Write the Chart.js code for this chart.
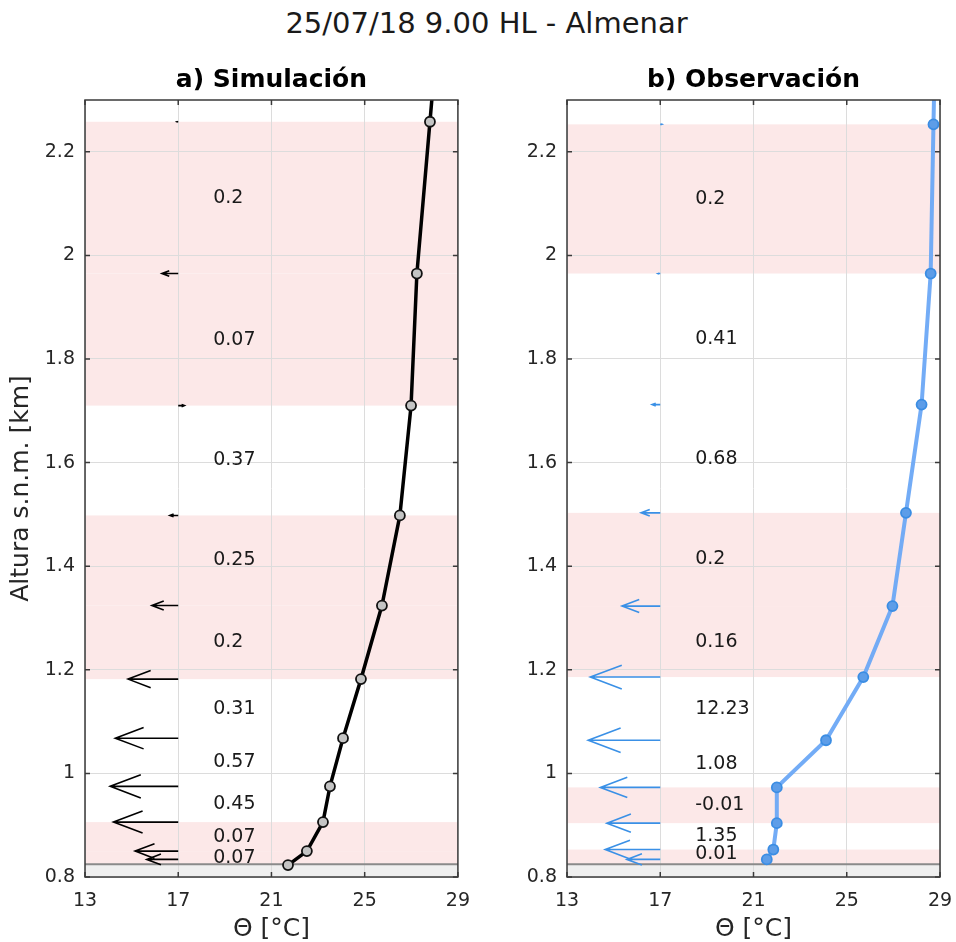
<!DOCTYPE html>
<html>
<head>
<meta charset="utf-8">
<script src="https://cdn.jsdelivr.net/npm/chart.js@4.4.1/dist/chart.umd.min.js"></script>
<style>
  body { margin:0; background:#fff; width:956px; height:942px; position:relative; overflow:hidden; font-family:"DejaVu Sans", sans-serif; }
  #titulo { position:absolute; left:0; width:973px; top:6px; text-align:center; font-size:29px; color:#1a1a1a; }
  .panel { position:absolute; top:0; height:942px; }
</style>
</head>
<body>
<div id="titulo">25/07/18 9.00 HL - Almenar</div>
<div class="panel" style="left:0;width:470px"><canvas id="js-sim-chart"></canvas></div>
<div class="panel" style="left:480px;width:476px"><canvas id="js-obs-chart"></canvas></div>
<script>
// ejes
const xTicks = [13, 17, 21, 25, 29];
const yTicks = [0.8, 1, 1.2, 1.4, 1.6, 1.8, 2, 2.2];
const groundZ = 0.8245;
const riLimit = 0.25;

// a) Simulación (de abajo a arriba)
const simTheta = [21.71, 22.52, 23.21, 23.51, 24.07, 24.84, 25.74, 26.51, 26.99, 27.24, 27.80, 28.36];
const simZ     = [0.823, 0.850, 0.906, 0.975, 1.068, 1.182, 1.324, 1.498, 1.710, 1.965, 2.258, 2.55];
const simRi    = [0.07, 0.07, 0.45, 0.57, 0.31, 0.2, 0.25, 0.37, 0.07, 0.2];
const simWindZ = [0.834, 0.850, 0.906, 0.975, 1.068, 1.182, 1.324, 1.498, 1.710, 1.965, 2.258];
const simWindU = [-1.35, -1.85, -2.78, -2.92, -2.70, -2.15, -1.13, -0.36, 0.26, -0.70, -0.05];

// b) Observación
const obsTheta = [21.57, 21.85, 22.00, 22.00, 24.11, 25.71, 26.96, 27.54, 28.21, 28.60, 28.72, 28.85];
const obsZ     = [0.834, 0.853, 0.904, 0.973, 1.064, 1.186, 1.323, 1.503, 1.712, 1.965, 2.253, 2.55];
const obsRi    = [0.01, 1.35, -0.01, 1.08, 12.23, 0.16, 0.2, 0.68, 0.41, 0.2];
const obsWindZ = [0.834, 0.853, 0.904, 0.973, 1.064, 1.186, 1.323, 1.503, 1.712, 1.965, 2.253];
const obsWindU = [-1.43, -2.36, -2.29, -2.57, -3.09, -3.00, -1.64, -0.82, -0.35, -0.10, 0.07];

const FONT = 'DejaVu Sans';
const TXT = '#262626';

function makeDecor(cfg) {
    return {
        id: 'decor',
        beforeDraw(chart) {
            const {ctx, chartArea: a, scales: {x, y}} = chart;
            ctx.save();
            ctx.beginPath(); ctx.rect(a.left, a.top, a.width, a.height); ctx.clip();
            // capas con Ri bajo
            ctx.fillStyle = '#fce8e8';
            cfg.ri.forEach((ri, i) => {
                if (ri > riLimit) return;
                const lo = i === 0 ? groundZ : cfg.z[i];
                const y0 = y.getPixelForValue(cfg.z[i + 1]);
                const y1 = y.getPixelForValue(lo);
                ctx.fillRect(a.left, y0, a.width, y1 - y0);
            });
            // suelo
            const yg = y.getPixelForValue(groundZ);
            ctx.fillStyle = '#efefef';
            ctx.fillRect(a.left, yg, a.width, a.bottom - yg);
            ctx.restore();
        },
        beforeDatasetsDraw(chart) {
            const {ctx, chartArea: a, scales: {y}} = chart;
            const yg = y.getPixelForValue(groundZ);
            ctx.save();
            ctx.strokeStyle = '#8a8a8a';
            ctx.lineWidth = 2;
            ctx.beginPath(); ctx.moveTo(a.left, yg); ctx.lineTo(a.right, yg); ctx.stroke();
            ctx.restore();
        },
        afterDatasetsDraw(chart) {
            const {ctx, scales: {x, y}} = chart;
            ctx.save();
            // viento
            ctx.strokeStyle = cfg.arrowColor;
            ctx.lineWidth = 1.6;
            cfg.windZ.forEach((z, i) => {
                const x0 = x.getPixelForValue(17);
                const x1 = x.getPixelForValue(17 + cfg.windU[i]);
                const yy = y.getPixelForValue(z);
                const L = x1 - x0;
                const hb = -L * 0.45, hw = Math.abs(L) * 0.17;
                ctx.beginPath();
                ctx.moveTo(x0, yy); ctx.lineTo(x1, yy);
                ctx.moveTo(x1 + hb, yy - hw); ctx.lineTo(x1, yy); ctx.lineTo(x1 + hb, yy + hw);
                ctx.stroke();
            });
            // Ri por capa
            ctx.fillStyle = '#1a1a1a';
            ctx.font = '19px "' + FONT + '"';
            ctx.textAlign = 'left';
            ctx.textBaseline = 'middle';
            cfg.ri.forEach((ri, i) => {
                const zm = (cfg.z[i] + cfg.z[i + 1]) / 2;
                ctx.fillText(String(ri), x.getPixelForValue(18.5), y.getPixelForValue(zm));
            });
            ctx.restore();
        },
        afterDraw(chart) {
            const {ctx, chartArea: a, scales: {x, y}} = chart;
            ctx.save();
            ctx.strokeStyle = '#3a3a3a';
            ctx.lineWidth = 1.5;
            ctx.strokeRect(a.left, a.top, a.width, a.height);
            ctx.beginPath();
            x.ticks.forEach(t => {
                const px = x.getPixelForValue(t.value);
                ctx.moveTo(px, a.bottom); ctx.lineTo(px, a.bottom - 5);
                ctx.moveTo(px, a.top); ctx.lineTo(px, a.top + 5);
            });
            y.ticks.forEach(t => {
                const py = y.getPixelForValue(t.value);
                ctx.moveTo(a.left, py); ctx.lineTo(a.left + 5, py);
                ctx.moveTo(a.right, py); ctx.lineTo(a.right - 5, py);
            });
            ctx.stroke();
            ctx.fillStyle = '#000';
            ctx.font = 'bold 25px "' + FONT + '"';
            ctx.textAlign = 'center';
            ctx.textBaseline = 'middle';
            ctx.fillText(cfg.title, (a.left + a.right) / 2, a.top - 20);
            ctx.restore();
        }
    };
}

function buildScales(yTitle, yWidth) {
    return {
        x: {
            type: 'linear', min: 13, max: 29,
            afterBuildTicks: s => { s.ticks = xTicks.map(v => ({value: v})); },
            grid: {color: '#dcdcdc', drawTicks: true, tickLength: 13, tickColor: 'rgba(0,0,0,0)'},
            border: {display: false},
            ticks: {padding: 0, color: TXT, font: {family: FONT, size: 19}},
            title: {display: true, text: 'Θ [°C]', color: TXT,
                font: {family: FONT, size: 25, lineHeight: 0.9}, padding: {top: 0, bottom: 1}},
            afterFit: s => { s.height = 65; }
        },
        y: {
            type: 'linear', min: 0.8, max: 2.3,
            afterBuildTicks: s => { s.ticks = yTicks.map(v => ({value: v})); },
            grid: {color: '#dcdcdc', drawTicks: false},
            border: {display: false},
            ticks: {padding: 10, color: TXT, font: {family: FONT, size: 19}, callback: v => String(v)},
            title: {display: !!yTitle, text: yTitle || '', color: TXT,
                font: {family: FONT, size: 25, lineHeight: 1}, padding: {top: 9, bottom: 0}},
            afterFit: s => { s.width = yWidth; }
        }
    };
}

function initChart(id, theta, z, ds, cfg, yTitle, yWidth, padRight) {
    const ctx = document.getElementById(id).getContext('2d');
    return new Chart(ctx, {
        type: 'scatter',
        data: {
            datasets: [Object.assign({
                data: theta.map((t, i) => ({x: t, y: z[i]})),
                showLine: true,
                pointRadius: 5,
                pointHoverRadius: 5
            }, ds)]
        },
        options: {
            responsive: true,
            maintainAspectRatio: false,
            animation: false,
            layout: {padding: {top: 100, right: padRight, bottom: 0, left: 0}},
            plugins: {legend: {display: false}, tooltip: {enabled: false}},
            scales: buildScales(yTitle, yWidth)
        },
        plugins: [makeDecor(cfg)]
    });
}

initChart('js-sim-chart', simTheta, simZ, {
    borderColor: '#000', borderWidth: 3.5,
    pointBackgroundColor: '#c4c4c4', pointBorderColor: '#111', pointBorderWidth: 1.8
}, {z: simZ, ri: simRi, windZ: simWindZ, windU: simWindU, arrowColor: '#000', title: 'a) Simulación'},
'Altura s.n.m. [km]', 85, 12);

initChart('js-obs-chart', obsTheta, obsZ, {
    borderColor: 'rgba(108,168,245,0.95)', borderWidth: 4,
    pointBackgroundColor: '#5d9de8', pointBorderColor: '#3b8de3', pointBorderWidth: 1.8
}, {z: obsZ, ri: obsRi, windZ: obsWindZ, windU: obsWindU, arrowColor: '#3a90e6', title: 'b) Observación'},
null, 87, 16);
</script>
</body>
</html>
